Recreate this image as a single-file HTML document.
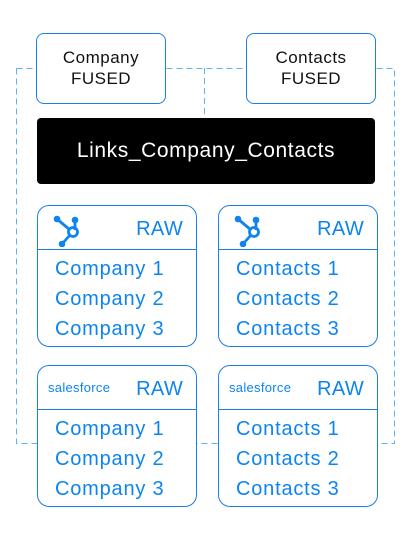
<!DOCTYPE html>
<html><head><style>
body{margin:0;width:410px;height:540px;background:#fff;position:relative;overflow:hidden;font-family:"Liberation Sans",sans-serif}
.b{position:absolute;box-sizing:border-box}
.f{border:1.3px solid #1a80e5;border-radius:8px;background:#fff;text-align:center;font-size:17px;letter-spacing:0.5px;line-height:21px;color:#111;padding-top:13px}
.r{border:1.3px solid #1a80e5;border-radius:12px;background:#fff;color:#0d84f0}
.r .h{position:absolute;left:0;right:0;top:43px;border-top:1.3px solid #1a80e5}
.r .raw{position:absolute;right:13px;top:12px;font-size:20px;letter-spacing:0.3px}
.r .it{position:absolute;left:17px;font-size:20px;letter-spacing:0.8px}
.r .sf{position:absolute;left:10px;top:14px;font-size:13px;letter-spacing:0.3px}
</style></head><body>
<svg class="b" style="left:0;top:0" width="410" height="540">
<g stroke="#5ab4f0" stroke-width="1" stroke-dasharray="6,4" fill="none">
<rect x="16.5" y="68.5" width="378" height="375"/>
<line x1="204.5" y1="68" x2="204.5" y2="118"/>
</g></svg>
<div class="b f" style="left:36px;top:33px;width:130px;height:71px">Company<br>FUSED</div>
<div class="b f" style="left:246px;top:33px;width:130px;height:71px">Contacts<br>FUSED</div>
<div class="b" style="left:37px;top:118px;width:338px;height:66px;background:#000;border-radius:4px;color:#fff;font-size:21px;letter-spacing:0.6px;text-align:center;line-height:66px">Links_Company_Contacts</div>

<div class="b r" style="left:37px;top:205px;width:160px;height:142px">
<svg style="position:absolute;left:13px;top:5px" width="34" height="36"><g stroke="#0d84f0" stroke-width="2.8" fill="none"><line x1="6" y1="8" x2="19" y2="19"/><line x1="24" y1="9" x2="24" y2="19"/><line x1="11" y1="33" x2="19" y2="24"/><circle cx="22" cy="21" r="4.5"/></g><g fill="#0d84f0"><circle cx="6" cy="8" r="3.3"/><circle cx="24" cy="9" r="3.3"/><circle cx="11" cy="33" r="3.3"/></g></svg>
<div class="raw">RAW</div><div class="h"></div>
<div class="it" style="top:52px">Company 1</div><div class="it" style="top:82px">Company 2</div><div class="it" style="top:112px">Company 3</div></div>

<div class="b r" style="left:218px;top:205px;width:160px;height:142px">
<svg style="position:absolute;left:13px;top:5px" width="34" height="36"><g stroke="#0d84f0" stroke-width="2.8" fill="none"><line x1="6" y1="8" x2="19" y2="19"/><line x1="24" y1="9" x2="24" y2="19"/><line x1="11" y1="33" x2="19" y2="24"/><circle cx="22" cy="21" r="4.5"/></g><g fill="#0d84f0"><circle cx="6" cy="8" r="3.3"/><circle cx="24" cy="9" r="3.3"/><circle cx="11" cy="33" r="3.3"/></g></svg>
<div class="raw">RAW</div><div class="h"></div>
<div class="it" style="top:52px">Contacts 1</div><div class="it" style="top:82px">Contacts 2</div><div class="it" style="top:112px">Contacts 3</div></div>

<div class="b r" style="left:37px;top:365px;width:160px;height:142px">
<div class="sf">salesforce</div><div class="raw">RAW</div><div class="h"></div>
<div class="it" style="top:52px">Company 1</div><div class="it" style="top:82px">Company 2</div><div class="it" style="top:112px">Company 3</div></div>

<div class="b r" style="left:218px;top:365px;width:160px;height:142px">
<div class="sf">salesforce</div><div class="raw">RAW</div><div class="h"></div>
<div class="it" style="top:52px">Contacts 1</div><div class="it" style="top:82px">Contacts 2</div><div class="it" style="top:112px">Contacts 3</div></div>
</body></html>
